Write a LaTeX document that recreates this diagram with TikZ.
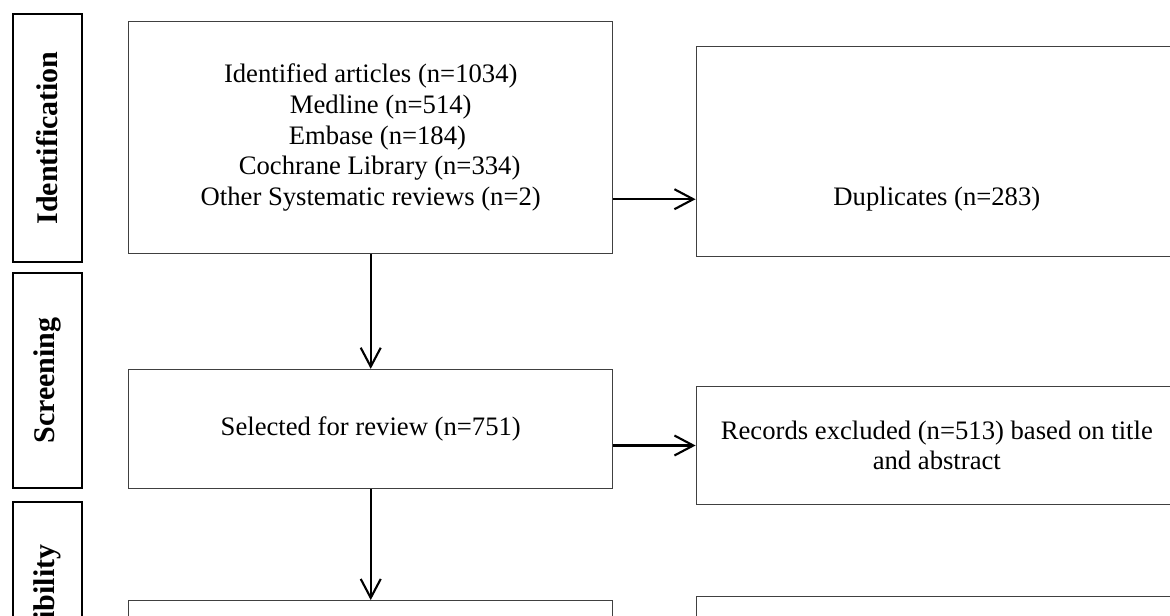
\documentclass[tikz,border=0pt]{standalone}
\usepackage{fontspec}
\setmainfont{Liberation Serif}
\usetikzlibrary{positioning,arrows.meta,calc}

\begin{document}
\begin{tikzpicture}[
			node distance=51.5pt,
			box/.style={
				draw=black!75,
				line width=0.45pt,
				minimum width=217.6pt,
				minimum height=53.6pt,
				align=center,
				font=\fontsize{12pt}{13.8pt}\selectfont
			},
			sidebox/.style={
				box,
				minimum width=216.7pt,
				minimum height=53.1pt
			},
			stage/.style={
				draw,
				line width=0.9pt,
				minimum height=31pt,
				rotate=90,
				font=\fontsize{13.5pt}{16pt}\selectfont\bfseries
			},
			>={Straight Barb[length=8.5pt,width=9pt]},
			line width=0.95pt
			]
			
			\useasboundingbox (0,0) rectangle (526.5pt,-277.2pt);
			\clip (0,0) rectangle (526.5pt,-277.2pt);
			
			% stages on the left
			\node[stage,minimum width=111.6pt] (ident) at (21.4pt,-62.1pt) {Identification};
			\node[stage,minimum width=96.8pt] (screen) at (21.4pt,-171.2pt) {Screening};
			\node[stage,minimum width=95.4pt] (elig) at (21.4pt,-273.6pt) {Eligibility};
			
			% main column
			\node[box,minimum height=104.6pt,anchor=north west] (found) at (57.8pt,-9.45pt)
				{Identified articles (n=1034)\\\hspace*{9pt}Medline (n=514)\\\hspace*{6pt}Embase (n=184)\\\hspace*{8pt}Cochrane Library (n=334)\\Other Systematic reviews (n=2)};
			\node[box,below=of found] (selected) {Selected for review (n=751)};
			\node[box,below=50pt of selected] (full) {};
			
			% exclusions
			\node[sidebox,minimum height=94.5pt,anchor=north west] (dup) at (313pt,-20.7pt) {};
			\node[font=\fontsize{12pt}{13.8pt}\selectfont] (duptxt) at ($(dup.south)+(0,26pt)$) {Duplicates (n=283)};
			\node[sidebox,anchor=north west] (excl) at (313pt,-173.7pt) {Records excluded (n=513) based on title\\and abstract};
			\node[sidebox,anchor=north west] (excl2) at (313pt,-268.2pt) {};
			
			\draw[->] (found.east |- duptxt) -- (dup.west |- duptxt);
			\draw[->] (found) -- (selected);
			\draw[->] (selected.east |- excl) -- (excl);
			\draw[->] (selected) -- (full);
			
		\end{tikzpicture}
\end{document}
